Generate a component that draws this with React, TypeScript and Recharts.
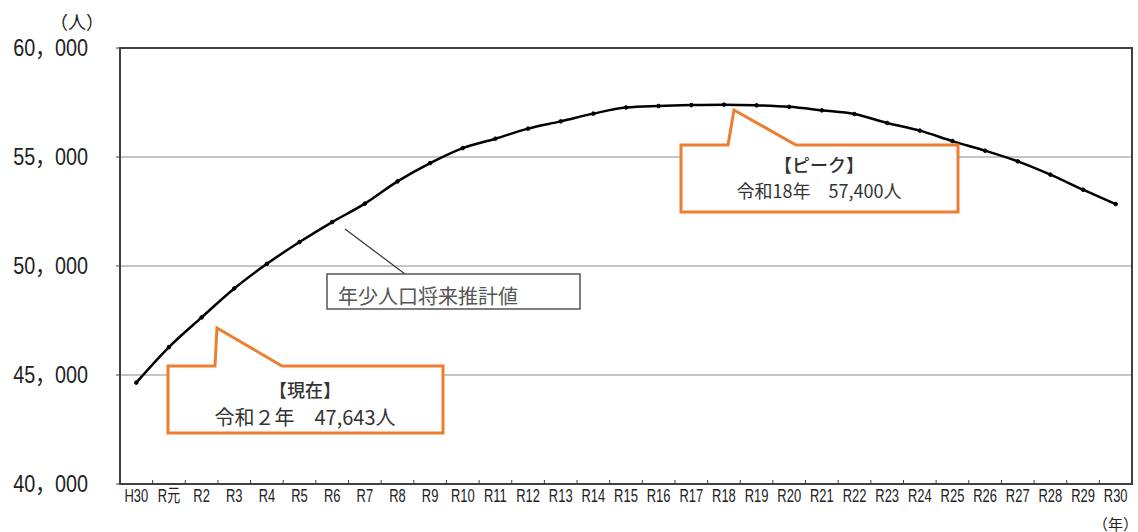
import { CartesianGrid, Line, LineChart, XAxis, YAxis } from "recharts"

// fiscal year labels (H30 .. R30)
const years = [
  "H30", "R元", "R2", "R3", "R4", "R5", "R6", "R7", "R8", "R9", "R10",
  "R11", "R12", "R13", "R14", "R15", "R16", "R17", "R18", "R19", "R20",
  "R21", "R22", "R23", "R24", "R25", "R26", "R27", "R28", "R29", "R30",
]

// projected youth population (persons)
const youthPopulation = [
  44650, 46280, 47643, 48970, 50100, 51100, 52015, 52860, 53880, 54720, 55410,
  55840, 56300, 56635, 56990, 57270, 57340, 57380, 57400, 57370, 57300,
  57140, 56970, 56560, 56210, 55730, 55290, 54800, 54190, 53500, 52840,
]

const yTicks = [40000, 45000, 50000, 55000, 60000]

const data = years.map((year, i) => ({ year, value: youthPopulation[i] }))

const sans = "'Liberation Sans', 'Noto Sans CJK JP', sans-serif"
const jp = "'Noto Sans CJK JP', sans-serif"
const orange = "#ED7D31"

// plot area in px (used for the frame + tick spacing)
const plotLeft = 120
const plotTop = 48
const plotRight = 1132
const plotBottom = 484
const band = (plotRight - plotLeft) / years.length

const YTick = (props: any) => {
  const { y, payload } = props
  const s = String(payload.value)
  const label = s.slice(0, s.length - 3) + "，" + s.slice(-3)
  return (
    <text
      transform={`translate(88,${y}) scale(0.86,1)`}
      textAnchor="end"
      dominantBaseline="central"
      fontSize={23}
      fontFamily={sans}
      fill="#222"
    >
      {label}
    </text>
  )
}

const XTick = (props: any) => {
  const { x, y, payload } = props
  return (
    <g>
      <line x1={x - band / 2} x2={x - band / 2} y1={y} y2={y - 4} stroke="#404040" strokeWidth={1} />
      <text
        transform={`translate(${x},${y + 12}) scale(0.72,1)`}
        textAnchor="middle"
        dominantBaseline="central"
        fontSize={18}
        fontFamily={sans}
        fill="#222"
      >
        {payload.value}
      </text>
    </g>
  )
}

export default function App() {
  return (
    <div style={{ position: "absolute", left: 0, top: 0, width: 1138, height: 532, background: "#fff" }}>
      <LineChart width={1138} height={532} data={data} margin={{ top: plotTop, right: 1138 - plotRight, left: 0, bottom: 0 }}>
        <CartesianGrid vertical={false} stroke="#8a8a8a" strokeWidth={1} />
        <XAxis
          dataKey="year"
          height={48}
          interval={0}
          padding={{ left: band / 2, right: band / 2 }}
          tickSize={0}
          tickMargin={0}
          tick={<XTick />}
          axisLine={{ stroke: "#404040", strokeWidth: 2 }}
          tickLine={false}
        />
        <YAxis
          width={120}
          domain={[40000, 60000]}
          ticks={yTicks}
          tickSize={4}
          tick={<YTick />}
          axisLine={{ stroke: "#404040", strokeWidth: 2 }}
          tickLine={{ stroke: "#404040" }}
        />
        <Line
          type="monotone"
          dataKey="value"
          stroke="#000"
          strokeWidth={2.5}
          dot={{ r: 1.8, fill: "#000", stroke: "#000", strokeWidth: 1 }}
          isAnimationActive={false}
        />
      </LineChart>

      {/* frame, units, annotations */}
      <svg width={1138} height={532} style={{ position: "absolute", left: 0, top: 0, pointerEvents: "none" }}>
        <rect x={plotLeft} y={plotTop} width={plotRight - plotLeft} height={plotBottom - plotTop} fill="none" stroke="#404040" strokeWidth={2} />

        <text x={77} y={21} textAnchor="middle" dominantBaseline="central" fontSize={18} fontFamily={jp} fill="#222">（人）</text>
        <text x={1138} y={523} textAnchor="end" dominantBaseline="central" fontSize={15} fontFamily={jp} fill="#222">（年）</text>

        {/* series label */}
        <line x1={345} y1={229} x2={405} y2={274} stroke="#333" strokeWidth={1.2} />
        <rect x={327} y={274} width={253} height={35} fill="#fff" stroke="#555" strokeWidth={1.5} />
        <text x={338} y={295} dominantBaseline="central" fontSize={20} fontFamily={jp} fill="#555">年少人口将来推計値</text>

        {/* current */}
        <path d="M168,366 L215,366 L217,328 L282,366 L443,366 L443,433 L168,433 Z" fill="#fff" stroke={orange} strokeWidth={3} strokeLinejoin="miter" />
        <text x={305} y={389} textAnchor="middle" dominantBaseline="central" fontSize={18} fontWeight={500} fontFamily={jp} fill="#333">【現在】</text>
        <text x={305} y={416} textAnchor="middle" dominantBaseline="central" fontSize={20} fontFamily={jp} fill="#333">令和２年　47,643人</text>

        {/* peak */}
        <path d="M681,145 L728,145 L734,110 L796,145 L958,145 L958,212 L681,212 Z" fill="#fff" stroke={orange} strokeWidth={3} strokeLinejoin="miter" />
        <text x={819} y={164} textAnchor="middle" dominantBaseline="central" fontSize={18} fontWeight={500} fontFamily={jp} fill="#333">【ピーク】</text>
        <text x={819} y={190} textAnchor="middle" dominantBaseline="central" fontSize={18} fontFamily={jp} fill="#333">令和18年　57,400人</text>
      </svg>
    </div>
  )
}
